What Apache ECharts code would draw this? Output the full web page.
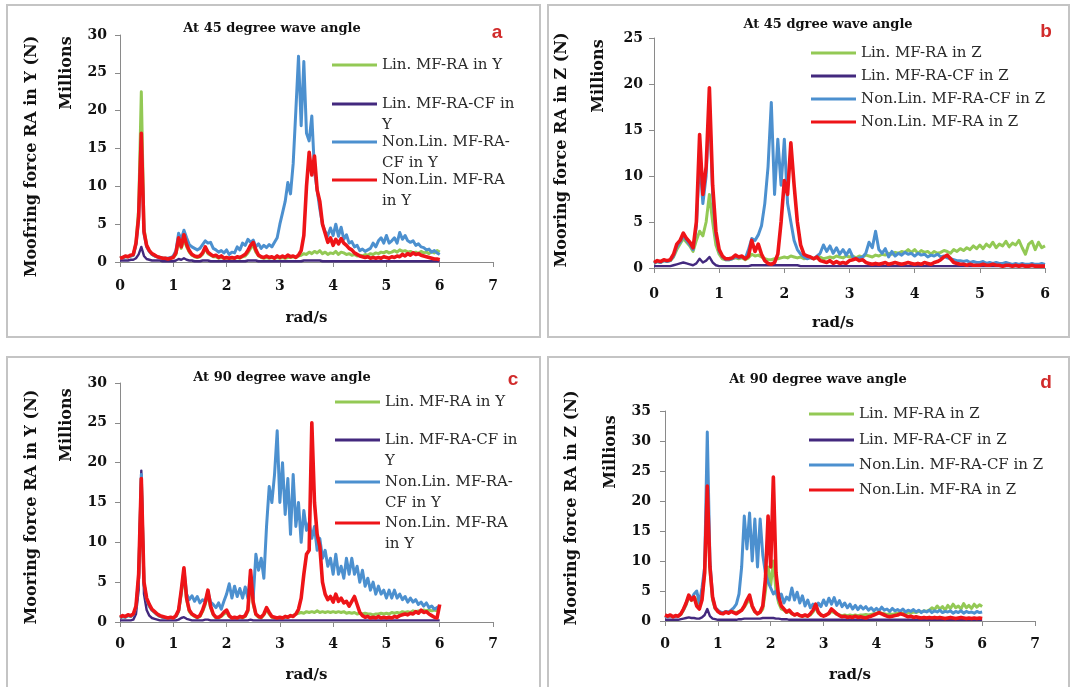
<!DOCTYPE html>
<html><head><meta charset="utf-8">
<script src="https://cdn.jsdelivr.net/npm/echarts@6/dist/echarts.min.js"></script>
<style>html,body{margin:0;padding:0;background:#fff}#c{width:1072px;height:687px}</style>
</head><body><div id="c"></div>
<script>
// ---------- DATA ----------
const xs = [
 0,0.05,0.1,0.15,0.2,0.25,0.3,0.35,0.4,0.45,0.5,0.55,0.6,0.65,0.7,0.75,0.8,0.85,0.9,0.95,
 1,1.05,1.1,1.15,1.2,1.25,1.3,1.35,1.4,1.45,1.5,1.55,1.6,1.65,1.7,1.75,1.8,1.85,1.9,1.95,
 2,2.05,2.1,2.15,2.2,2.25,2.3,2.35,2.4,2.45,2.5,2.55,2.6,2.65,2.7,2.75,2.8,2.85,2.9,2.95,
 3,3.05,3.1,3.15,3.2,3.25,3.3,3.35,3.4,3.45,3.5,3.55,3.6,3.65,3.7,3.75,3.8,3.85,3.9,3.95,
 4,4.05,4.1,4.15,4.2,4.25,4.3,4.35,4.4,4.45,4.5,4.55,4.6,4.65,4.7,4.75,4.8,4.85,4.9,4.95,
 5,5.05,5.1,5.15,5.2,5.25,5.3,5.35,5.4,5.45,5.5,5.55,5.6,5.65,5.7,5.75,5.8,5.85,5.9,5.95,
 6];

const namesY = ['Lin. MF-RA in Y','Lin. MF-RA-CF in Y','Non.Lin. MF-RA-CF in Y','Non.Lin. MF-RA in Y'];
const namesZ = ['Lin. MF-RA in Z','Lin. MF-RA-CF in Z','Non.Lin. MF-RA-CF in Z','Non.Lin. MF-RA in Z'];
const legendLinesY = [['Lin. MF-RA in Y'],['Lin. MF-RA-CF in','Y'],['Non.Lin. MF-RA-','CF in Y'],['Non.Lin. MF-RA','in Y']];

// Panel a : 45 degree, Y
const linA = [
 0.5,0.6,0.7,0.7,0.8,0.9,2.5,7.0,22.5,4.5,2.2,1.5,1.0,0.8,0.7,0.6,0.5,0.5,0.4,0.5,
 0.6,1.0,2.8,1.8,3.0,2.0,1.3,0.9,0.7,0.6,0.7,1.0,1.8,1.1,0.9,0.7,0.7,0.5,0.6,0.5,
 0.5,0.5,0.5,0.5,0.6,0.5,0.7,0.8,1.2,1.8,2.2,1.3,0.8,0.6,0.5,0.6,0.5,0.6,0.5,0.6,
 0.5,0.6,0.5,0.6,0.6,0.7,0.6,0.8,0.9,1.1,1.0,1.3,1.1,1.4,1.2,1.5,1.1,1.3,1.0,1.2,
 1.1,1.4,1.0,1.3,1.2,1.0,1.1,0.9,1.0,0.8,0.9,0.8,1.0,0.9,1.1,1.0,1.2,1.1,1.3,1.2,
 1.4,1.2,1.3,1.5,1.3,1.6,1.4,1.5,1.3,1.4,1.2,1.3,1.1,1.4,1.2,1.3,1.1,1.4,1.2,1.5,
 1.3];
const linCfA = [
 0.2,0.2,0.2,0.2,0.3,0.3,0.5,1.0,2.0,0.8,0.4,0.3,0.2,0.2,0.2,0.2,0.1,0.1,0.1,0.1,
 0.1,0.2,0.4,0.3,0.5,0.3,0.2,0.2,0.1,0.1,0.1,0.2,0.2,0.2,0.1,0.1,0.1,0.1,0.1,0.1,
 0.1,0.1,0.1,0.1,0.1,0.1,0.1,0.1,0.2,0.2,0.2,0.2,0.1,0.1,0.1,0.1,0.1,0.1,0.1,0.1,
 0.1,0.1,0.1,0.1,0.1,0.1,0.1,0.1,0.1,0.2,0.2,0.2,0.2,0.2,0.2,0.2,0.1,0.1,0.1,0.1,
 0.1,0.1,0.1,0.1,0.1,0.1,0.1,0.1,0.1,0.1,0.1,0.1,0.1,0.1,0.1,0.1,0.1,0.1,0.1,0.1,
 0.1,0.1,0.1,0.1,0.1,0.1,0.1,0.1,0.1,0.1,0.1,0.1,0.1,0.1,0.1,0.1,0.1,0.1,0.1,0.1,
 0.1];
const nlCfA = [
 0.5,0.6,0.7,0.7,0.8,0.9,2.3,5.5,16.0,3.8,2.0,1.4,1.0,0.8,0.7,0.6,0.5,0.5,0.5,0.6,
 0.8,1.5,3.8,3.0,4.2,3.2,2.3,2.0,1.8,1.6,1.8,2.3,2.8,2.5,2.6,1.8,1.6,1.3,1.5,1.2,
 1.6,1.0,1.3,1.2,2.0,1.6,2.5,2.2,3.0,2.6,2.9,2.0,2.4,1.8,2.2,1.9,2.3,2.0,2.6,3.2,
 5.0,6.5,8.0,10.5,9.0,13.0,20.0,27.2,18.0,26.5,17.0,16.0,19.3,12.0,9.5,7.0,5.0,4.0,3.5,4.5,
 3.5,5.0,3.4,4.6,3.0,3.6,2.5,2.7,2.0,2.2,1.5,1.7,1.4,1.6,1.8,2.5,2.0,2.8,3.2,2.5,
 3.5,2.5,2.8,3.2,2.5,3.9,3.0,3.5,2.8,2.6,2.8,2.2,2.4,2.0,1.9,1.6,1.7,1.3,1.5,1.2,
 1.0];
const nlA = [
 0.5,0.6,0.8,0.7,0.9,1.0,2.5,6.0,17.0,4.0,2.2,1.5,1.1,0.9,0.7,0.6,0.5,0.5,0.4,0.5,
 0.6,1.2,3.2,2.0,3.6,2.3,1.5,1.0,0.8,0.7,0.8,1.2,2.0,1.3,1.0,0.8,0.9,0.6,0.8,0.5,
 0.6,0.5,0.6,0.5,0.7,0.6,0.8,1.0,1.5,2.2,2.6,1.6,0.9,0.7,0.6,0.8,0.6,0.7,0.5,0.8,
 0.6,0.8,0.6,0.9,0.7,0.8,0.6,0.9,1.5,3.5,10.0,14.5,11.5,14.0,9.5,8.0,5.0,3.8,2.6,3.2,
 2.2,3.0,2.4,3.1,2.5,2.2,1.8,1.6,1.2,1.0,0.8,0.7,0.6,0.7,0.5,0.6,0.5,0.6,0.5,0.7,
 0.6,0.5,0.7,0.6,0.8,0.7,1.0,0.8,1.1,0.9,1.2,1.0,1.1,0.9,0.8,0.7,0.6,0.5,0.4,0.4,
 0.3];

// Panel b : 45 degree, Z
const linB = [
 0.5,0.7,0.6,0.8,0.7,0.8,1.2,2.0,2.6,3.2,2.8,2.4,1.8,3.0,4.0,3.5,5.0,8.0,5.0,2.5,
 1.5,1.0,0.9,0.9,1.0,1.1,1.0,1.1,0.9,1.1,1.5,1.3,1.4,1.2,1.0,0.9,0.9,1.0,1.0,1.1,
 1.2,1.1,1.3,1.2,1.1,1.2,1.0,1.1,1.2,1.0,1.1,1.2,1.0,1.1,1.2,1.1,1.3,1.2,1.1,1.3,
 1.2,1.3,1.1,1.3,1.2,1.4,1.3,1.2,1.4,1.3,1.5,1.4,1.6,1.5,1.7,1.6,1.8,1.7,2.0,1.7,
 2.0,1.6,1.9,1.7,1.8,1.5,1.8,1.6,1.7,1.9,1.8,1.6,2.0,1.8,2.1,1.9,2.2,2.0,2.4,2.1,
 2.5,2.1,2.6,2.3,2.8,2.2,2.6,2.4,2.9,2.3,2.7,2.5,3.0,2.2,1.5,2.6,2.9,2.0,2.8,2.2,
 2.4];
const linCfB = [
 0.2,0.2,0.2,0.2,0.2,0.2,0.3,0.4,0.5,0.6,0.5,0.4,0.3,0.5,1.0,0.6,0.8,1.2,0.6,0.3,
 0.2,0.2,0.2,0.2,0.2,0.2,0.2,0.2,0.2,0.2,0.3,0.3,0.3,0.3,0.3,0.3,0.3,0.3,0.3,0.3,
 0.3,0.3,0.3,0.3,0.3,0.2,0.2,0.2,0.2,0.2,0.2,0.2,0.2,0.2,0.2,0.2,0.2,0.2,0.2,0.2,
 0.2,0.2,0.2,0.2,0.2,0.2,0.2,0.2,0.2,0.2,0.2,0.2,0.2,0.2,0.2,0.2,0.2,0.2,0.2,0.2,
 0.2,0.2,0.2,0.2,0.2,0.2,0.2,0.2,0.2,0.2,0.2,0.2,0.2,0.2,0.2,0.2,0.2,0.2,0.2,0.2,
 0.2,0.2,0.2,0.2,0.2,0.2,0.2,0.2,0.2,0.2,0.2,0.2,0.2,0.2,0.2,0.2,0.2,0.2,0.2,0.2,
 0.2];
const nlCfB = [
 0.5,0.7,0.6,0.8,0.7,0.8,1.3,2.3,2.8,3.5,3.0,2.5,2.0,4.5,12.0,7.0,10.0,18.0,8.0,3.5,
 1.8,1.2,0.9,0.9,1.0,1.2,1.1,1.2,1.0,2.0,3.2,3.0,3.6,4.6,7.0,11.0,18.0,8.0,14.0,9.0,
 14.0,7.0,5.0,3.0,2.0,1.5,1.2,1.0,1.1,1.0,1.3,1.6,2.5,1.8,2.4,1.6,2.2,1.5,2.0,1.4,
 2.0,1.2,1.0,1.1,1.2,1.6,2.8,2.2,4.0,2.0,1.6,2.1,1.2,1.8,1.3,1.6,1.4,1.7,1.5,1.6,
 1.3,1.6,1.4,1.5,1.2,1.4,1.3,1.5,1.2,1.3,1.1,1.0,0.9,0.8,0.8,0.7,0.8,0.6,0.7,0.6,
 0.6,0.7,0.5,0.6,0.5,0.6,0.5,0.5,0.6,0.5,0.4,0.5,0.4,0.5,0.4,0.4,0.5,0.4,0.4,0.5,
 0.4];
const nlB = [
 0.6,0.8,0.7,0.9,0.8,0.9,1.5,2.6,3.0,3.8,3.2,2.8,2.2,5.0,14.5,8.0,11.0,19.6,9.0,4.0,
 2.0,1.3,1.0,1.0,1.1,1.4,1.2,1.3,1.0,1.3,3.0,1.8,2.6,1.5,0.8,0.5,0.4,0.6,1.5,5.0,
 9.5,8.0,13.6,9.0,5.0,2.5,1.5,1.3,1.2,1.0,1.2,0.8,0.7,0.6,0.8,0.5,0.7,0.5,0.6,0.5,
 0.8,0.9,1.0,0.8,0.9,0.6,0.5,0.4,0.5,0.4,0.5,0.6,0.4,0.5,0.6,0.5,0.4,0.5,0.6,0.5,
 0.4,0.5,0.4,0.6,0.5,0.4,0.6,0.7,0.9,1.2,1.4,1.0,0.6,0.5,0.4,0.4,0.3,0.4,0.3,0.3,
 0.3,0.4,0.3,0.3,0.4,0.3,0.3,0.2,0.3,0.3,0.2,0.3,0.2,0.3,0.2,0.2,0.3,0.2,0.2,0.2,
 0.2];

// Panel c : 90 degree, Y
const linC = [
 0.5,0.7,0.6,0.8,0.7,0.9,1.8,5.5,18.0,4.8,2.8,2.0,1.5,1.2,0.9,0.7,0.6,0.5,0.5,0.5,
 0.5,0.7,1.3,3.5,6.0,2.8,1.3,0.9,0.7,0.5,0.7,1.3,2.2,3.5,1.8,0.9,0.5,0.5,0.7,1.0,
 1.2,0.7,0.5,0.5,0.5,0.6,0.5,0.7,1.3,5.5,2.2,0.9,0.6,0.5,0.9,1.5,1.0,0.6,0.5,0.5,
 0.5,0.5,0.6,0.6,0.7,0.8,1.0,1.1,1.2,1.1,1.3,1.2,1.3,1.2,1.4,1.2,1.3,1.2,1.3,1.2,
 1.3,1.2,1.3,1.2,1.3,1.1,1.2,1.1,1.2,1.0,1.1,1.0,1.1,1.0,1.0,0.9,1.0,1.0,1.1,1.0,
 1.1,1.0,1.2,1.1,1.2,1.1,1.3,1.2,1.3,1.2,1.4,1.3,1.4,1.3,1.5,1.4,1.5,1.4,1.5,1.4,
 1.5];
const linCfC = [
 0.2,0.2,0.2,0.2,0.2,0.3,1.0,4.0,19.0,3.5,1.5,0.8,0.5,0.4,0.3,0.2,0.2,0.2,0.2,0.2,
 0.2,0.2,0.3,0.5,0.6,0.4,0.3,0.2,0.2,0.2,0.2,0.2,0.3,0.3,0.2,0.2,0.2,0.2,0.2,0.2,
 0.2,0.2,0.2,0.2,0.2,0.2,0.2,0.2,0.2,0.3,0.2,0.2,0.2,0.2,0.2,0.2,0.2,0.2,0.2,0.2,
 0.2,0.2,0.2,0.2,0.2,0.2,0.2,0.2,0.2,0.2,0.2,0.2,0.2,0.2,0.2,0.2,0.2,0.2,0.2,0.2,
 0.2,0.2,0.2,0.2,0.2,0.2,0.2,0.2,0.2,0.2,0.2,0.2,0.2,0.2,0.2,0.2,0.2,0.2,0.2,0.2,
 0.2,0.2,0.2,0.2,0.2,0.2,0.2,0.2,0.2,0.2,0.2,0.2,0.2,0.2,0.2,0.2,0.2,0.2,0.2,0.2,
 0.2];
const nlCfC = [
 0.5,0.7,0.6,0.8,0.7,0.9,1.8,5.5,18.5,4.8,2.8,2.0,1.5,1.2,0.9,0.7,0.6,0.5,0.5,0.5,
 0.5,0.7,1.4,3.8,6.5,3.5,2.8,3.3,2.6,3.2,2.4,2.8,2.6,3.8,2.5,2.2,1.8,2.4,1.6,2.6,
 3.5,4.8,3.0,4.5,3.2,4.2,3.0,4.4,3.0,6.0,3.0,8.5,6.5,8.0,5.5,12.0,17.0,15.0,18.5,24.0,
 15.0,20.0,13.5,18.0,11.0,18.5,12.0,15.0,10.0,14.0,11.5,12.5,10.5,12.0,9.0,10.5,8.0,9.0,7.0,8.0,
 6.0,8.5,6.0,7.0,5.5,8.0,6.0,8.0,6.0,7.0,5.0,6.5,4.5,5.5,4.0,5.0,3.5,4.5,3.5,4.0,
 3.0,4.0,3.0,4.0,3.0,3.5,2.8,3.2,2.5,3.0,2.5,2.8,2.2,2.5,2.0,2.4,1.8,2.0,1.6,1.8,
 2.0];
const nlC = [
 0.6,0.8,0.7,0.9,0.8,1.0,2.0,6.0,18.0,5.0,3.0,2.2,1.6,1.3,1.0,0.8,0.7,0.6,0.5,0.6,
 0.5,0.8,1.5,4.0,6.8,3.0,1.5,1.0,0.8,0.6,0.8,1.5,2.5,4.0,2.0,1.0,0.6,0.6,0.8,1.2,
 1.5,0.8,0.5,0.6,0.5,0.7,0.6,0.8,1.5,6.5,2.5,1.0,0.7,0.6,1.0,1.8,1.2,0.7,0.6,0.5,
 0.6,0.5,0.7,0.6,0.8,0.7,1.0,1.6,3.0,6.0,8.5,9.0,25.0,15.0,11.0,9.5,5.0,3.5,2.8,3.2,
 2.5,3.5,2.6,3.0,2.4,2.6,2.0,2.6,3.2,2.2,1.2,0.8,0.6,0.7,0.5,0.6,0.5,0.7,0.5,0.6,
 0.5,0.6,0.5,0.7,0.6,0.8,0.9,1.0,0.9,1.1,1.0,1.3,1.1,1.5,1.2,1.3,1.0,0.8,0.6,0.5,
 2.2];

// Panel d : 90 degree, Z
const linD = [
 0.8,0.7,0.9,0.7,0.8,0.8,1.1,1.8,2.7,4.0,3.4,4.0,3.5,2.5,4.0,8.0,20.0,8.5,3.5,2.0,
 1.6,1.4,1.3,1.5,1.4,1.6,1.5,1.4,1.6,1.8,2.3,3.0,3.8,2.3,1.5,1.2,1.4,2.0,5.0,9.0,
 6.0,10.0,5.0,3.0,2.0,1.8,1.4,1.6,1.2,1.0,1.1,0.9,0.8,0.9,0.8,1.0,1.5,2.2,1.3,1.0,
 0.9,1.0,1.2,1.6,1.4,1.1,1.0,0.9,1.0,0.9,1.0,0.9,1.0,0.9,1.0,1.0,1.1,1.0,1.1,1.2,
 1.3,1.4,1.3,1.2,1.1,1.2,1.1,1.2,1.3,1.4,1.3,1.2,1.4,1.3,1.5,1.4,1.6,1.5,1.7,1.6,
 1.8,2.2,1.9,2.5,2.0,2.4,1.8,2.6,2.1,2.8,2.2,2.5,2.0,2.9,2.2,2.6,2.1,2.8,2.3,2.7,
 2.4];
const linCfD = [
 0.2,0.2,0.2,0.2,0.2,0.2,0.3,0.4,0.5,0.6,0.5,0.5,0.4,0.4,0.6,1.0,2.0,0.8,0.4,0.3,
 0.2,0.2,0.2,0.2,0.2,0.2,0.2,0.2,0.3,0.3,0.4,0.4,0.4,0.4,0.4,0.4,0.4,0.5,0.5,0.5,
 0.5,0.5,0.4,0.4,0.3,0.3,0.3,0.2,0.2,0.2,0.2,0.2,0.2,0.2,0.2,0.2,0.2,0.2,0.2,0.2,
 0.2,0.2,0.2,0.2,0.2,0.2,0.2,0.2,0.2,0.2,0.2,0.2,0.2,0.2,0.2,0.2,0.2,0.2,0.2,0.2,
 0.2,0.2,0.2,0.2,0.2,0.2,0.2,0.2,0.2,0.2,0.2,0.2,0.2,0.2,0.2,0.2,0.2,0.2,0.2,0.2,
 0.2,0.2,0.2,0.2,0.2,0.2,0.2,0.2,0.2,0.2,0.2,0.2,0.2,0.2,0.2,0.2,0.2,0.2,0.2,0.2,
 0.2];
const nlCfD = [
 0.8,0.7,0.9,0.7,0.8,0.8,1.2,1.9,2.9,4.2,3.6,4.5,5.0,3.0,5.5,9.0,31.5,10.0,4.0,2.2,
 1.8,1.5,1.4,1.6,1.5,1.8,2.2,2.8,4.5,9.0,17.5,12.0,18.0,10.0,17.0,9.0,17.0,11.0,8.0,6.5,
 5.5,4.5,5.0,3.5,4.5,3.0,4.0,3.5,5.5,3.5,4.8,3.0,4.2,2.5,3.5,2.2,2.8,2.0,3.0,2.4,
 3.5,2.6,3.8,2.8,3.9,2.6,3.4,2.4,3.0,2.2,2.8,2.0,2.6,1.9,2.5,2.0,2.4,1.8,2.2,1.7,
 2.1,1.7,2.3,1.8,2.0,1.6,2.1,1.7,1.9,1.6,2.0,1.5,1.8,1.6,1.9,1.5,1.8,1.4,1.7,1.5,
 1.8,1.4,1.7,1.5,1.8,1.4,1.6,1.5,1.7,1.3,1.6,1.4,1.7,1.3,1.6,1.4,1.5,1.3,1.6,1.4,
 1.5];
const nlD = [
 1.0,0.8,1.0,0.7,0.9,0.8,1.2,2.0,3.0,4.3,3.5,4.0,2.5,2.0,3.5,8.0,22.5,9.0,4.0,2.2,
 1.6,1.3,1.2,1.5,1.3,1.6,1.4,1.2,1.5,1.8,2.5,3.5,4.3,2.5,1.6,1.2,1.5,2.5,7.0,17.5,
 9.0,24.0,8.0,4.0,2.5,2.0,1.5,1.8,1.3,1.0,1.2,0.9,0.8,1.0,0.8,1.2,1.8,2.8,1.5,1.0,
 0.8,1.0,1.3,2.0,1.6,1.2,0.9,0.7,0.8,0.6,0.7,0.6,0.8,0.6,0.7,0.6,0.5,0.7,0.8,1.0,
 1.2,1.4,1.2,1.0,0.8,0.7,0.8,0.9,1.0,1.2,1.1,0.9,0.7,0.8,0.6,0.7,0.6,0.5,0.6,0.5,
 0.6,0.5,0.6,0.5,0.6,0.5,0.4,0.5,0.6,0.5,0.4,0.5,0.6,0.5,0.4,0.5,0.4,0.5,0.4,0.5,
 0.4];

// ---------- LAYOUT / STYLE ----------
const colors = ['#93C955', '#43297E', '#4C90CF', '#EE1418'];
const widths = [3, 2.4, 3, 3.6];
const SERIF = '"DejaVu Serif", serif';

const panels = [
 { letter:'a', title:'At 45 degree wave angle', titleX:272, titleY:29, letterX:497, letterY:33,
   grid:{left:120, top:35, width:373, height:227}, xMax:7, yMax:30,
   yName:'Moofring force RA in Y (N)', yGap:80, yNamePad:[0,16,0,0], millX:67, millY:73,
   xNamePad:[0,0,0,0], xGap:49, xLabMargin:17, yLabMargin:13,
   names:namesY, data:[linA, linCfA, nlCfA, nlA], legendLines:legendLinesY,
   legLeft:332, legY:[65,104,142,180] },
 { letter:'b', title:'At 45 dgree wave angle', titleX:828, titleY:25, letterX:1046, letterY:32,
   grid:{left:654, top:38, width:391, height:230}, xMax:6, yMax:25,
   yName:'Mooring force RA in Z (N)', yGap:84, yNamePad:[0,0,0,6], millX:599, millY:76,
   xNamePad:[0,33,0,0], xGap:48, xLabMargin:19, yLabMargin:11,
   names:namesZ, data:[linB, linCfB, nlCfB, nlB], legendLines:namesZ.map(n=>[n]),
   legLeft:811, legY:[53,76,99,122] },
 { letter:'c', title:'At 90 degree wave angle', titleX:282, titleY:378, letterX:513, letterY:380,
   grid:{left:120, top:383, width:373, height:239}, xMax:7, yMax:30,
   yName:'Mooring force RA in Y (N)', yGap:80, yNamePad:[0,9,0,0], millX:67, millY:425,
   xNamePad:[0,0,0,0], xGap:46, xLabMargin:15, yLabMargin:13,
   names:namesY, data:[linC, linCfC, nlCfC, nlC], legendLines:legendLinesY,
   legLeft:335, legY:[402,440,482,523] },
 { letter:'d', title:'At 90 degree wave angle', titleX:818, titleY:380, letterX:1046, letterY:383,
   grid:{left:665, top:411, width:370, height:210}, xMax:7, yMax:35,
   yName:'Mooring force RA in Z (N)', yGap:85, yNamePad:[0,0,0,16], millX:611, millY:452,
   xNamePad:[0,0,0,0], xGap:47, xLabMargin:16, yLabMargin:14,
   names:namesZ, data:[linD, linCfD, nlCfD, nlD], legendLines:namesZ.map(n=>[n]),
   legLeft:809, legY:[414,440,465,490] }
];

const axisLine = {show:true, lineStyle:{color:'#8a8a8a', width:1}};
const axisTick = {show:true, length:5, lineStyle:{color:'#8a8a8a'}};
const tickFont = {color:'#111', fontFamily:SERIF, fontWeight:'bold', fontSize:14};

const grids = [], xAxes = [], yAxes = [], series = [], legends = [];
const graphics = [
  {type:'rect', z:-1, shape:{x:7, y:5, width:533, height:332}, style:{fill:'none', stroke:'#c4c4c4', lineWidth:2}},
  {type:'rect', z:-1, shape:{x:548, y:5, width:521, height:332}, style:{fill:'none', stroke:'#c4c4c4', lineWidth:2}},
  {type:'rect', z:-1, shape:{x:7, y:357, width:533, height:340}, style:{fill:'none', stroke:'#c4c4c4', lineWidth:2}},
  {type:'rect', z:-1, shape:{x:548, y:357, width:521, height:340}, style:{fill:'none', stroke:'#c4c4c4', lineWidth:2}}
];

panels.forEach((p, i) => {
  grids.push(Object.assign({containLabel:false}, p.grid));
  xAxes.push({
    type:'value', gridIndex:i, min:0, max:p.xMax, interval:1,
    name:'rad/s', nameLocation:'middle', nameGap:p.xGap,
    nameTextStyle:{color:'#111', fontFamily:SERIF, fontWeight:'bold', fontSize:15, padding:p.xNamePad},
    axisLine:axisLine, axisTick:axisTick, splitLine:{show:false},
    axisLabel:Object.assign({margin:p.xLabMargin}, tickFont)
  });
  yAxes.push({
    type:'value', gridIndex:i, min:0, max:p.yMax, interval:5,
    name:p.yName, nameLocation:'middle', nameGap:p.yGap, nameRotate:90,
    nameTextStyle:{color:'#111', fontFamily:SERIF, fontWeight:'bold', fontSize:16, padding:p.yNamePad},
    axisLine:axisLine, axisTick:axisTick, splitLine:{show:false},
    axisLabel:Object.assign({margin:p.yLabMargin}, tickFont)
  });
  p.names.forEach((nm, si) => {
    series.push({
      type:'line', name:nm, xAxisIndex:i, yAxisIndex:i,
      data: xs.map((x, k) => [x, p.data[si][k]]),
      symbol:'none', showSymbol:false, color:colors[si],
      lineStyle:{width:widths[si], color:colors[si], join:'round'},
      z: 2 + si, animation:false
    });
    const lines = p.legendLines[si];
    const multi = lines.length > 1;
    const txt = multi ? '\n' + lines.join('\n') : lines[0];
    legends.push({
      data:[nm], orient:'vertical', left:p.legLeft, top:p.legY[si] - (multi ? 31.5 : 10.5),
      padding:0, icon:'rect', itemWidth:45, itemHeight:3, selectedMode:false,
      formatter: () => txt,
      textStyle:{color:'#2a2a2a', fontFamily:SERIF, fontSize:15, lineHeight:21}
    });
  });
  graphics.push({type:'text', x:p.titleX, y:p.titleY,
    style:{text:p.title, align:'center', verticalAlign:'middle', fill:'#111',
      fontFamily:SERIF, fontWeight:'bold', fontSize:13}});
  graphics.push({type:'text', x:p.letterX, y:p.letterY,
    style:{text:p.letter, align:'center', verticalAlign:'middle', fill:'#D12B2B',
      fontFamily:'"Liberation Sans", Arial, sans-serif', fontWeight:'bold', fontSize:19}});
  graphics.push({type:'text', x:p.millX, y:p.millY, rotation:Math.PI/2,
    style:{text:'Millions', align:'center', verticalAlign:'middle', fill:'#111',
      fontFamily:SERIF, fontWeight:'bold', fontSize:16}});
});

const chart = echarts.init(document.getElementById('c'), null, {renderer:'canvas'});
chart.setOption({
  backgroundColor:'#ffffff',
  animation:false,
  grid:grids, xAxis:xAxes, yAxis:yAxes, series:series, legend:legends,
  graphic:graphics
});
</script>
</body></html>
